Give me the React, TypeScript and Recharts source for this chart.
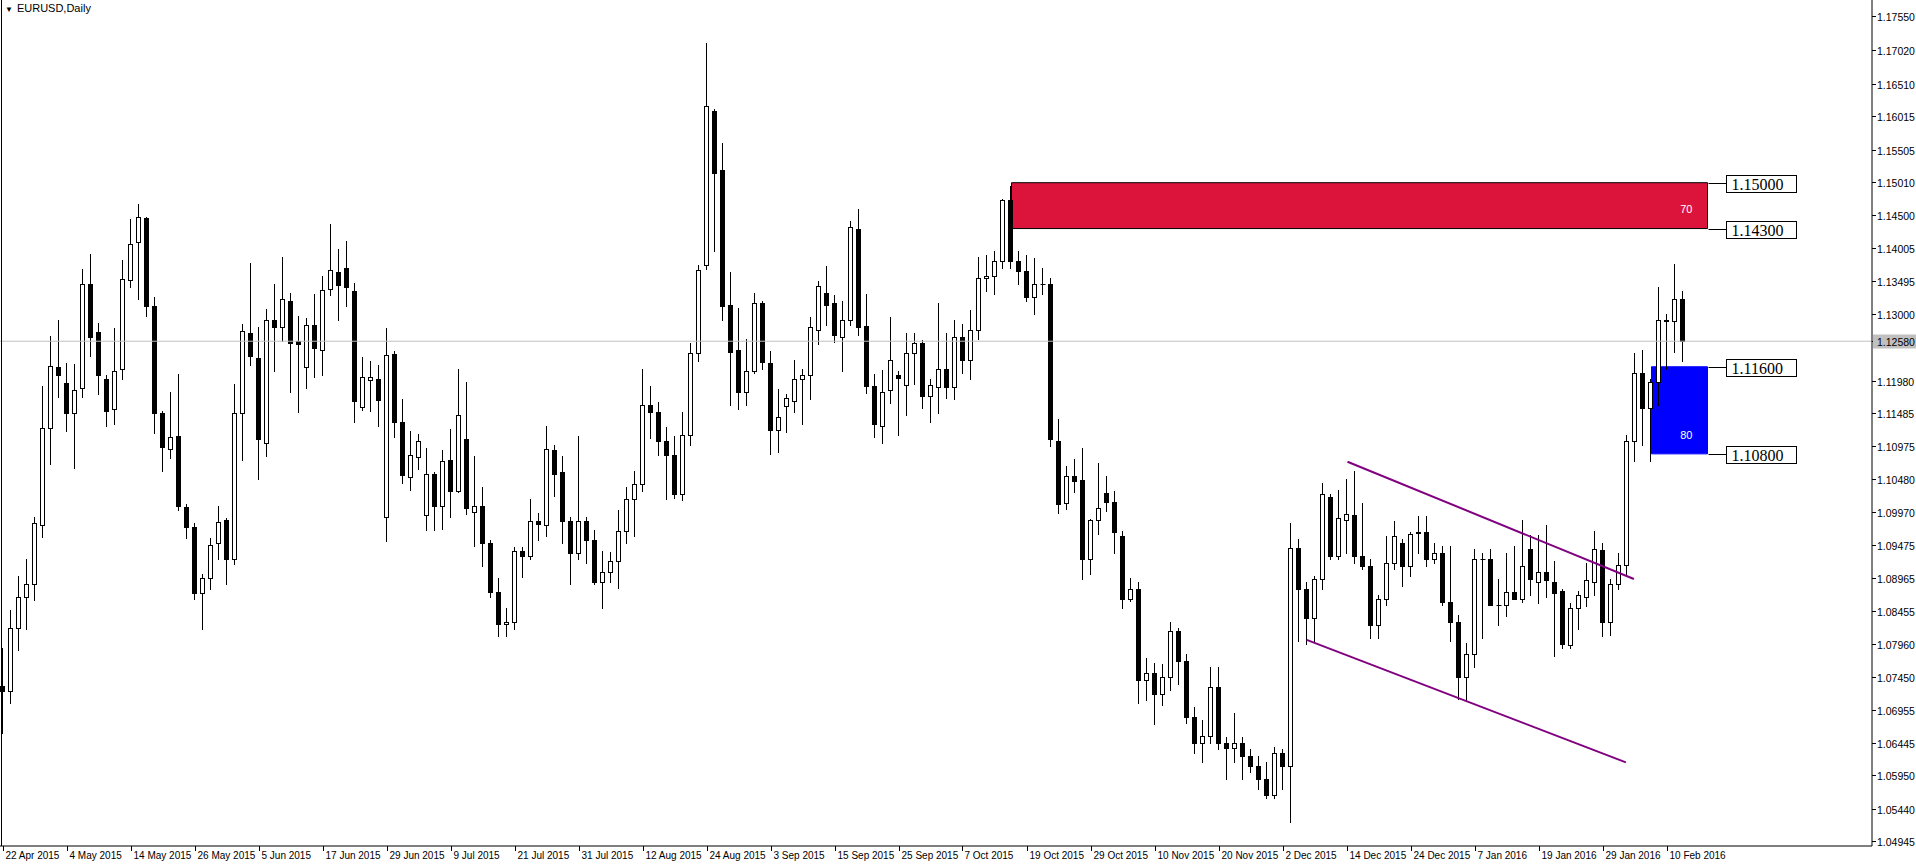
import React from "react";
import {
  ComposedChart,
  Bar,
  XAxis,
  YAxis,
  ReferenceArea,
  ReferenceLine,
  ReferenceDot,
} from "recharts";

// EURUSD daily bars, 22 Apr 2015 .. 12 Feb 2016
const opens = [
  1.0732, 1.0724, 1.082, 1.0867, 1.0888, 1.0977, 1.1125, 1.1218, 1.1194, 1.1148,
  1.1186, 1.1346, 1.1272, 1.12, 1.1154, 1.1216, 1.1352, 1.141, 1.1446, 1.1312,
  1.1148, 1.1094, 1.1113, 1.1005, 1.0974, 1.0873, 1.0897, 1.095, 1.0985, 1.0926,
  1.1149, 1.1271, 1.1232, 1.1102, 1.129, 1.128, 1.132, 1.1258, 1.1218, 1.1283,
  1.1244, 1.1338, 1.1364, 1.137, 1.1335, 1.1158, 1.1199, 1.12, 1.099, 1.1238,
  1.1135, 1.1051, 1.1081, 1.0992, 1.1055, 1.1006, 1.1076, 1.103, 1.1109, 1.0997,
  1.1007, 1.095, 1.0875, 1.0826, 1.083, 1.0938, 1.093, 1.0984, 1.0977, 1.1092,
  1.1059, 1.0984, 1.0935, 1.0983, 1.0955, 1.089, 1.0905, 1.0922, 1.0968, 1.1017,
  1.104, 1.116, 1.115, 1.1105, 1.1085, 1.1025, 1.1115, 1.124, 1.1374, 1.1609,
  1.1519, 1.1313, 1.1244, 1.118, 1.1212, 1.1316, 1.1224, 1.1122, 1.1159, 1.1166,
  1.1201, 1.1207, 1.1275, 1.1331, 1.1316, 1.1265, 1.129, 1.1429, 1.1281, 1.119,
  1.1129, 1.1183, 1.1206, 1.1191, 1.124, 1.1255, 1.1175, 1.1188, 1.1215, 1.1188,
  1.1265, 1.123, 1.1275, 1.1355, 1.1358, 1.138, 1.1473, 1.138, 1.1365, 1.1325,
  1.1345, 1.1345, 1.1106, 1.1011, 1.1052, 1.1046, 1.0926, 1.0985, 1.1027, 1.1012,
  1.0961, 1.0865, 1.088, 1.074, 1.0752, 1.072, 1.0745, 1.0815, 1.077, 1.0685,
  1.0645, 1.0655, 1.073, 1.0645, 1.0637, 1.0645, 1.0625, 1.061, 1.059, 1.0565,
  1.063, 1.061, 1.0942, 1.088, 1.0835, 1.0895, 1.102, 1.093, 1.0985, 1.0993,
  1.093, 1.0915, 1.0825, 1.0865, 1.092, 1.095, 1.0915, 1.0965, 1.0966, 1.0925,
  1.0935, 1.086, 1.083, 1.0745, 1.078, 1.0925, 1.0925, 1.0855, 1.0855, 1.0875,
  1.0865, 1.094, 1.0891, 1.0906, 1.0891, 1.0876, 1.0794, 1.085, 1.0867, 1.0891,
  1.0939, 1.083, 1.0887, 1.0917, 1.1105, 1.1209, 1.1156, 1.1196, 1.129, 1.1289,
  1.1323,
];
const highs = [
  1.079, 1.0848, 1.09, 1.0926, 1.099, 1.1189, 1.1266, 1.129, 1.1224, 1.1223,
  1.1369, 1.1391, 1.1286, 1.1206, 1.1278, 1.1382, 1.1445, 1.1467, 1.1448, 1.1325,
  1.1152, 1.118, 1.1208, 1.101, 1.0981, 1.0902, 1.0958, 1.1006, 1.0988, 1.1193,
  1.1284, 1.1378, 1.128, 1.1307, 1.1345, 1.1386, 1.1331, 1.1296, 1.1293, 1.133,
  1.1358, 1.1437, 1.1399, 1.1411, 1.1347, 1.1234, 1.1228, 1.1221, 1.1278, 1.1243,
  1.117, 1.1121, 1.1117, 1.1095, 1.1058, 1.1092, 1.1124, 1.1216, 1.1196, 1.1083,
  1.1035, 1.0955, 1.0896, 1.0851, 1.0944, 1.0944, 1.1017, 1.0996, 1.1128, 1.11,
  1.1083, 1.099, 1.1113, 1.099, 1.097, 1.0937, 1.0936, 1.1, 1.1035, 1.106,
  1.1215, 1.119, 1.1165, 1.1127, 1.1114, 1.115, 1.1255, 1.1375, 1.1713, 1.1612,
  1.156, 1.1363, 1.1308, 1.1262, 1.1331, 1.1319, 1.1243, 1.1185, 1.1177, 1.1229,
  1.1216, 1.1295, 1.135, 1.1373, 1.1328, 1.1319, 1.1442, 1.146, 1.133, 1.1208,
  1.1214, 1.1295, 1.1213, 1.127, 1.127, 1.126, 1.12, 1.1317, 1.127, 1.129,
  1.1285, 1.1305, 1.1387, 1.139, 1.1395, 1.1475, 1.1495, 1.1395, 1.139, 1.1385,
  1.137, 1.1355, 1.1139, 1.1067, 1.1078, 1.1095, 1.0987, 1.1072, 1.1052, 1.1029,
  1.0969, 1.0896, 1.089, 1.0775, 1.0767, 1.0765, 1.083, 1.082, 1.078, 1.07,
  1.068, 1.076, 1.076, 1.0654, 1.069, 1.0654, 1.0635, 1.0625, 1.0615, 1.0638,
  1.0635, 1.0981, 1.0956, 1.089, 1.09, 1.1042, 1.1024, 1.1031, 1.1048, 1.106,
  1.1011, 1.0925, 1.087, 1.096, 1.0983, 1.0956, 1.0966, 1.0991, 1.0991, 1.095,
  1.0945, 1.0946, 1.084, 1.0798, 1.094, 1.0935, 1.094, 1.0895, 1.0935, 1.0945,
  1.0985, 1.0962, 1.0962, 1.0977, 1.0922, 1.088, 1.0859, 1.0876, 1.092, 1.0969,
  1.095, 1.0895, 1.0935, 1.1115, 1.124, 1.1245, 1.12, 1.134, 1.13, 1.1376,
  1.1334,
];
const lows = [
  1.066, 1.0705, 1.0786, 1.0819, 1.0863, 1.0959, 1.107, 1.1173, 1.1121, 1.1065,
  1.1173, 1.1236, 1.1178, 1.1129, 1.1132, 1.1201, 1.1341, 1.1323, 1.1297, 1.1118,
  1.106, 1.1079, 1.1001, 1.0958, 1.0864, 1.0819, 1.088, 1.0925, 1.0887, 1.0918,
  1.1077, 1.1221, 1.1048, 1.1083, 1.1213, 1.1258, 1.1181, 1.115, 1.1187, 1.1204,
  1.1206, 1.1329, 1.129, 1.1311, 1.1134, 1.1153, 1.1152, 1.1129, 1.0953, 1.1111,
  1.1042, 1.1031, 1.1063, 1.097, 1.097, 1.0972, 1.099, 1.1028, 1.0994, 1.0945,
  1.0915, 1.0868, 1.0808, 1.0808, 1.0819, 1.0898, 1.0925, 1.0955, 1.096, 1.1021,
  1.095, 1.0887, 1.0925, 1.092, 1.0888, 1.085, 1.089, 1.0881, 1.095, 1.096,
  1.103, 1.111, 1.1085, 1.1017, 1.1018, 1.1015, 1.11, 1.1228, 1.1369, 1.1396,
  1.1291, 1.116, 1.1155, 1.116, 1.1209, 1.1215, 1.1086, 1.1089, 1.112, 1.115,
  1.1131, 1.117, 1.1253, 1.1282, 1.1257, 1.1213, 1.1283, 1.1267, 1.1179, 1.1112,
  1.1103, 1.1163, 1.1115, 1.1146, 1.1192, 1.1156, 1.1134, 1.1149, 1.1172, 1.117,
  1.121, 1.12, 1.1262, 1.1335, 1.133, 1.137, 1.137, 1.1345, 1.132, 1.13,
  1.133, 1.1098, 1.0995, 1.1002, 1.1028, 1.0895, 1.0902, 1.0964, 1.0999, 1.0935,
  1.085, 1.0862, 1.0705, 1.071, 1.0674, 1.0702, 1.0725, 1.0735, 1.0675, 1.063,
  1.0615, 1.0645, 1.0635, 1.059, 1.0615, 1.059, 1.06, 1.0575, 1.056, 1.056,
  1.0575, 1.0524, 1.08, 1.0795, 1.08, 1.088, 1.0925, 1.0925, 1.0935, 1.092,
  1.091, 1.0805, 1.0805, 1.0855, 1.091, 1.0885, 1.09, 1.0935, 1.0915, 1.092,
  1.0855, 1.08, 1.0712, 1.071, 1.076, 1.0805, 1.0855, 1.0825, 1.0838, 1.0865,
  1.086, 1.087, 1.0859, 1.0867, 1.0777, 1.079, 1.079, 1.0819, 1.0853, 1.087,
  1.0808, 1.081, 1.088, 1.09, 1.1075, 1.11, 1.1075, 1.116, 1.1215, 1.1241,
  1.1228,
];
const closes = [
  1.0724, 1.082, 1.0867, 1.0887, 1.098, 1.1125, 1.122, 1.1207, 1.1148, 1.1184,
  1.1346, 1.1265, 1.1207, 1.1152, 1.1213, 1.1353, 1.1407, 1.1447, 1.1312, 1.1148,
  1.1096, 1.1111, 1.1007, 1.0975, 1.0873, 1.0897, 1.0947, 1.0982, 1.0926, 1.1149,
  1.1274, 1.1236, 1.1109, 1.1291, 1.128, 1.1322, 1.1256, 1.1253, 1.1283, 1.1247,
  1.1336, 1.1366, 1.1344, 1.134, 1.1167, 1.1204, 1.1204, 1.1169, 1.1237, 1.1134,
  1.1053, 1.1084, 1.1105, 1.1055, 1.1007, 1.1075, 1.103, 1.1145, 1.1004, 1.1006,
  1.095, 1.0875, 1.0826, 1.083, 1.0938, 1.093, 1.0984, 1.0979, 1.1093, 1.1056,
  1.0984, 1.0935, 1.0983, 1.0955, 1.089, 1.0905, 1.0922, 1.0968, 1.1017, 1.104,
  1.116, 1.115, 1.1105, 1.1085, 1.1025, 1.1115, 1.124, 1.1367, 1.1617, 1.1515,
  1.1312, 1.1242, 1.118, 1.1212, 1.1316, 1.1227, 1.1123, 1.1143, 1.1171, 1.1201,
  1.1206, 1.1279, 1.1342, 1.1314, 1.1268, 1.1291, 1.1432, 1.128, 1.1189, 1.1131,
  1.118, 1.123, 1.1202, 1.124, 1.1255, 1.1175, 1.1191, 1.1215, 1.1188, 1.1265,
  1.123, 1.1275, 1.1355, 1.1358, 1.138, 1.1473, 1.138, 1.1365, 1.1325, 1.1345,
  1.1345, 1.1109, 1.101, 1.1052, 1.1045, 1.0926, 1.0985, 1.1003, 1.1013, 1.0966,
  1.0865, 1.088, 1.074, 1.0752, 1.072, 1.0745, 1.0815, 1.077, 1.0685, 1.0645,
  1.0655, 1.073, 1.0645, 1.0637, 1.0645, 1.0625, 1.061, 1.059, 1.0565, 1.063,
  1.061, 1.0942, 1.088, 1.0835, 1.0895, 1.1024, 1.093, 1.0988, 1.0994, 1.093,
  1.0915, 1.0825, 1.0865, 1.092, 1.096, 1.0915, 1.0963, 1.0967, 1.0925, 1.0935,
  1.086, 1.083, 1.0745, 1.078, 1.0925, 1.0925, 1.0855, 1.0855, 1.0875, 1.0865,
  1.0915, 1.0895, 1.0906, 1.0893, 1.0874, 1.0796, 1.085, 1.087, 1.0893, 1.0941,
  1.083, 1.0887, 1.0917, 1.1105, 1.1209, 1.1156, 1.1196, 1.129, 1.1289, 1.1323,
  1.1258,
];

const dateLabels = [
  "22 Apr 2015", "4 May 2015", "14 May 2015", "26 May 2015", "5 Jun 2015",
  "17 Jun 2015", "29 Jun 2015", "9 Jul 2015", "21 Jul 2015", "31 Jul 2015",
  "12 Aug 2015", "24 Aug 2015", "3 Sep 2015", "15 Sep 2015", "25 Sep 2015",
  "7 Oct 2015", "19 Oct 2015", "29 Oct 2015", "10 Nov 2015", "20 Nov 2015",
  "2 Dec 2015", "14 Dec 2015", "24 Dec 2015", "7 Jan 2016", "19 Jan 2016",
  "29 Jan 2016", "10 Feb 2016",
];
const labelBars = dateLabels.map((_, k) => k * 8);

const priceTicks = [
  1.1755, 1.1702, 1.1651, 1.16015, 1.15505, 1.1501, 1.145, 1.14005, 1.13495,
  1.13, 1.1198, 1.11485, 1.10975, 1.1048, 1.0997, 1.09475, 1.08965,
  1.08455, 1.0796, 1.0745, 1.06955, 1.06445, 1.0595, 1.0544, 1.04945,
];
const BID = 1.1258;

const zones = [
  { from: 126, to: 213, top: 1.15, bottom: 1.143, fill: "#DC143C", text: "70", pos: "insideRight", dy: 3 },
  { from: 206, to: 213, top: 1.1219, bottom: 1.1086, fill: "#0000FF", text: "80", pos: "insideBottomRight", dy: 0 },
];
const priceTags = [
  { bar: 213, price: 1.15, text: "1.15000" },
  { bar: 213, price: 1.143, text: "1.14300" },
  { bar: 213, price: 1.1219, text: "1.11600" },
  { bar: 213, price: 1.1086, text: "1.10800" },
];
const channel = [
  [{ x: 168, y: 1.1074 }, { x: 203.8, y: 1.0895 }],
  [{ x: 162.9, y: 1.0802 }, { x: 202.8, y: 1.0615 }],
];

const candles = opens.map((o, i) => ({
  i,
  o,
  h: highs[i],
  l: lows[i],
  c: closes[i],
}));

const W = 1916;
const H = 866;
const PLOT_W = 1872; // left edge of the price scale
const X_LO = -3.5 / 8;
const X_HI = X_LO + PLOT_W / 8;
const Y_MIN = 1.15 - (846 - 182.7) / 6550;
const Y_MAX = 1.15 + 182.7 / 6550;
const FONT = "'Liberation Sans', Arial, sans-serif";

function Candle(props: any) {
  const { x, y, width, height, payload } = props;
  if (!payload || payload.h == null) return null;
  const { o, h, l, c } = payload;
  const top = Math.min(y, y + height);
  const hgt = Math.abs(height);
  const cx = Math.round(x + width / 2) - 0.5;
  const py = (v: number) => top + (h === l ? 0 : ((h - v) / (h - l)) * hgt);
  const bTop = Math.round(py(Math.max(o, c))) + 0.5;
  const bBot = Math.round(py(Math.min(o, c))) + 0.5;
  const bull = c >= o;
  return (
    <g>
      <line x1={cx} x2={cx} y1={Math.round(top)} y2={Math.round(top + hgt) + 1} stroke="#000" strokeWidth={1} />
      {bBot - bTop < 1 ? (
        <line x1={cx - 2} x2={cx + 3} y1={bTop} y2={bTop} stroke="#000" strokeWidth={1} />
      ) : (
        <rect
          x={cx - 2}
          y={bTop}
          width={4}
          height={bBot - bTop}
          fill={bull ? "#fff" : "#000"}
          stroke="#000"
          strokeWidth={1}
        />
      )}
    </g>
  );
}

function DateTick(props: any) {
  const { x, y, payload } = props;
  const k = labelBars.indexOf(payload.value);
  const tx = Math.round(x) - 0.5;
  return (
    <g>
      <line x1={tx} x2={tx} y1={y} y2={y + 5} stroke="#000" />
      <text x={tx + 2} y={y + 13} fontSize={10} fontFamily={FONT} fill="#000">
        {dateLabels[k]}
      </text>
    </g>
  );
}

function PriceTick(props: any) {
  const { x, y, payload } = props;
  const v = payload.value as number;
  const ty = Math.round(y) + 0.5;
  const bid = v === BID;
  return (
    <g>
      <line x1={x} x2={x + 4} y1={ty} y2={ty} stroke="#000" />
      {bid && <rect x={x + 1} y={ty - 7} width={W - x - 1} height={14} fill="#C0C0C0" />}
      <text x={x + 5} y={ty + 4} fontSize={10.5} fontFamily={FONT} fill="#000">
        {v.toFixed(5)}
      </text>
    </g>
  );
}

function Tag(props: any) {
  const { cx, cy, text } = props;
  const x0 = Math.round(cx) + 0.5;
  const yy = Math.round(cy) + 0.5;
  return (
    <g>
      <line x1={x0} x2={x0 + 18} y1={yy} y2={yy} stroke="#000" />
      <rect x={x0 + 18} y={yy - 8} width={70} height={17} fill="#fff" stroke="#000" />
      <text x={x0 + 23} y={yy + 6} fontSize={16} fontFamily="'Liberation Serif', serif" fill="#000">
        {text}
      </text>
    </g>
  );
}

export default function App() {
  return (
    <div style={{ position: "fixed", left: 0, top: 0, width: W, height: H, background: "#fff" }}>
      <ComposedChart width={W} height={H} data={candles} margin={{ top: 0, right: 0, bottom: 0, left: 0 }}>
        <XAxis
          type="number"
          dataKey="i"
          domain={[X_LO, X_HI]}
          allowDataOverflow
          ticks={labelBars}
          interval={0}
          height={20}
          tickSize={0}
          tickMargin={0}
          tickLine={false}
          axisLine={{ stroke: "#000" }}
          tick={<DateTick />}
        />
        <YAxis
          orientation="right"
          type="number"
          domain={[Y_MIN, Y_MAX]}
          allowDataOverflow
          ticks={[...priceTicks, BID]}
          interval={0}
          width={W - PLOT_W}
          tickSize={0}
          tickMargin={0}
          tickLine={false}
          axisLine={{ stroke: "#000" }}
          tick={<PriceTick />}
        />
        <ReferenceLine y={BID} stroke="#C0C0C0" />
        <ReferenceLine x={X_LO + 1.5 / 8} stroke="#000" />
        {zones.map((z) => (
          <ReferenceArea
            key={z.text}
            x1={z.from}
            x2={z.to}
            y1={z.bottom}
            y2={z.top}
            fill={z.fill}
            fillOpacity={1}
            stroke={z.text === "70" ? "#000" : z.fill}
            label={{ value: z.text, position: z.pos as any, fill: "#fff", fontSize: 11, fontFamily: FONT, offset: 15, dy: z.dy }}
          />
        ))}
        {channel.map((seg, n) => (
          <ReferenceLine key={n} segment={seg} stroke="#800080" strokeWidth={2} />
        ))}
        <Bar dataKey={(d: any) => [d.l, d.h]} barSize={5} shape={Candle} isAnimationActive={false} />
        {priceTags.map((t) => (
          <ReferenceDot
            key={t.text}
            x={t.bar}
            y={t.price}
            r={0}
            shape={(p: any) => <Tag {...p} text={t.text} />}
          />
        ))}
      </ComposedChart>
      <div
        style={{
          position: "absolute",
          left: 5,
          top: 2,
          fontFamily: FONT,
          fontSize: 11,
          color: "#000",
        }}
      >
        <span style={{ fontSize: 8, marginRight: 4 }}>▼</span>EURUSD,Daily
      </div>
    </div>
  );
}
